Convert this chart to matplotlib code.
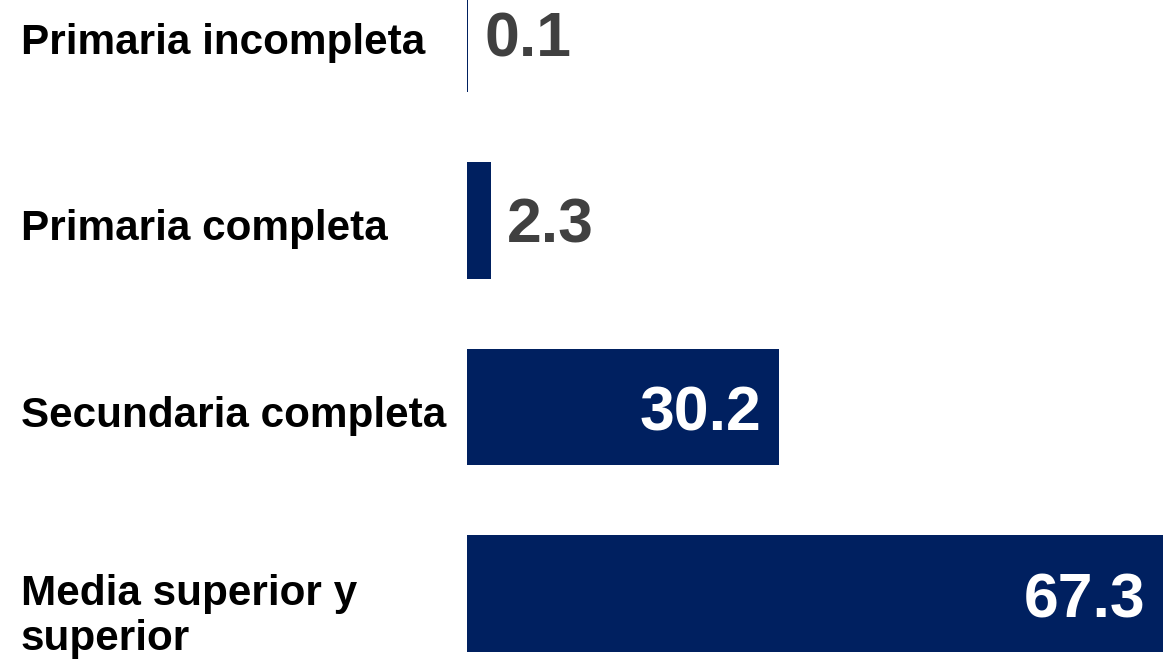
import matplotlib.pyplot as plt
import matplotlib.transforms as mtransforms

# Datos: nivel de escolaridad (%)
categorias = ['Primaria incompleta', 'Primaria completa',
              'Secundaria completa', 'Media superior y\nsuperior']
valores = [0.1, 2.3, 30.2, 67.3]

color_barra = '#002060'
color_texto_fuera = '#404040'

plt.rcParams['font.family'] = ['Liberation Sans', 'DejaVu Sans']

fig = plt.figure(figsize=(11.63, 6.63), dpi=100)
ax = fig.add_axes([467 / 1163, 0, 696 / 1163, 1])

pos = list(range(len(categorias)))
bars = ax.barh(pos, valores, height=0.625, color=color_barra)

ax.set_xlim(0, 67.3)
ax.set_ylim(3.373, -0.182)
ax.axis('off')

# etiquetas de categoria, alineadas a la izquierda en el borde de la figura
# (cada linea por separado para controlar el interlineado)
trans = mtransforms.blended_transform_factory(fig.transFigure, ax.transData)
for y, cat in zip(pos, categorias):
    lineas = cat.split('\n')
    base = 20 - 8 * (len(lineas) - 1)
    for k, linea in enumerate(lineas):
        ax.annotate(linea, xy=(21 / 1163, y), xycoords=trans,
                    xytext=(0, -base - 45 * k), textcoords='offset pixels',
                    ha='left', va='baseline', fontsize=30.4, fontweight='bold',
                    color='black', annotation_clip=False)

# valores: fuera de la barra si es corta, dentro (blanco) si es larga
for b, v in zip(bars, valores):
    yc = b.get_y() + b.get_height() / 2
    if v < 10:
        ax.annotate(f'{v}', xy=(v, yc), xytext=(16, -22.5),
                    textcoords='offset pixels', ha='left', va='baseline',
                    fontsize=45, fontweight='bold', color=color_texto_fuera,
                    annotation_clip=False)
    else:
        ax.annotate(f'{v}', xy=(v, yc), xytext=(-18, -24),
                    textcoords='offset pixels', ha='right', va='baseline',
                    fontsize=45, fontweight='bold', color='white')

fig.savefig('out.png', dpi=100)
